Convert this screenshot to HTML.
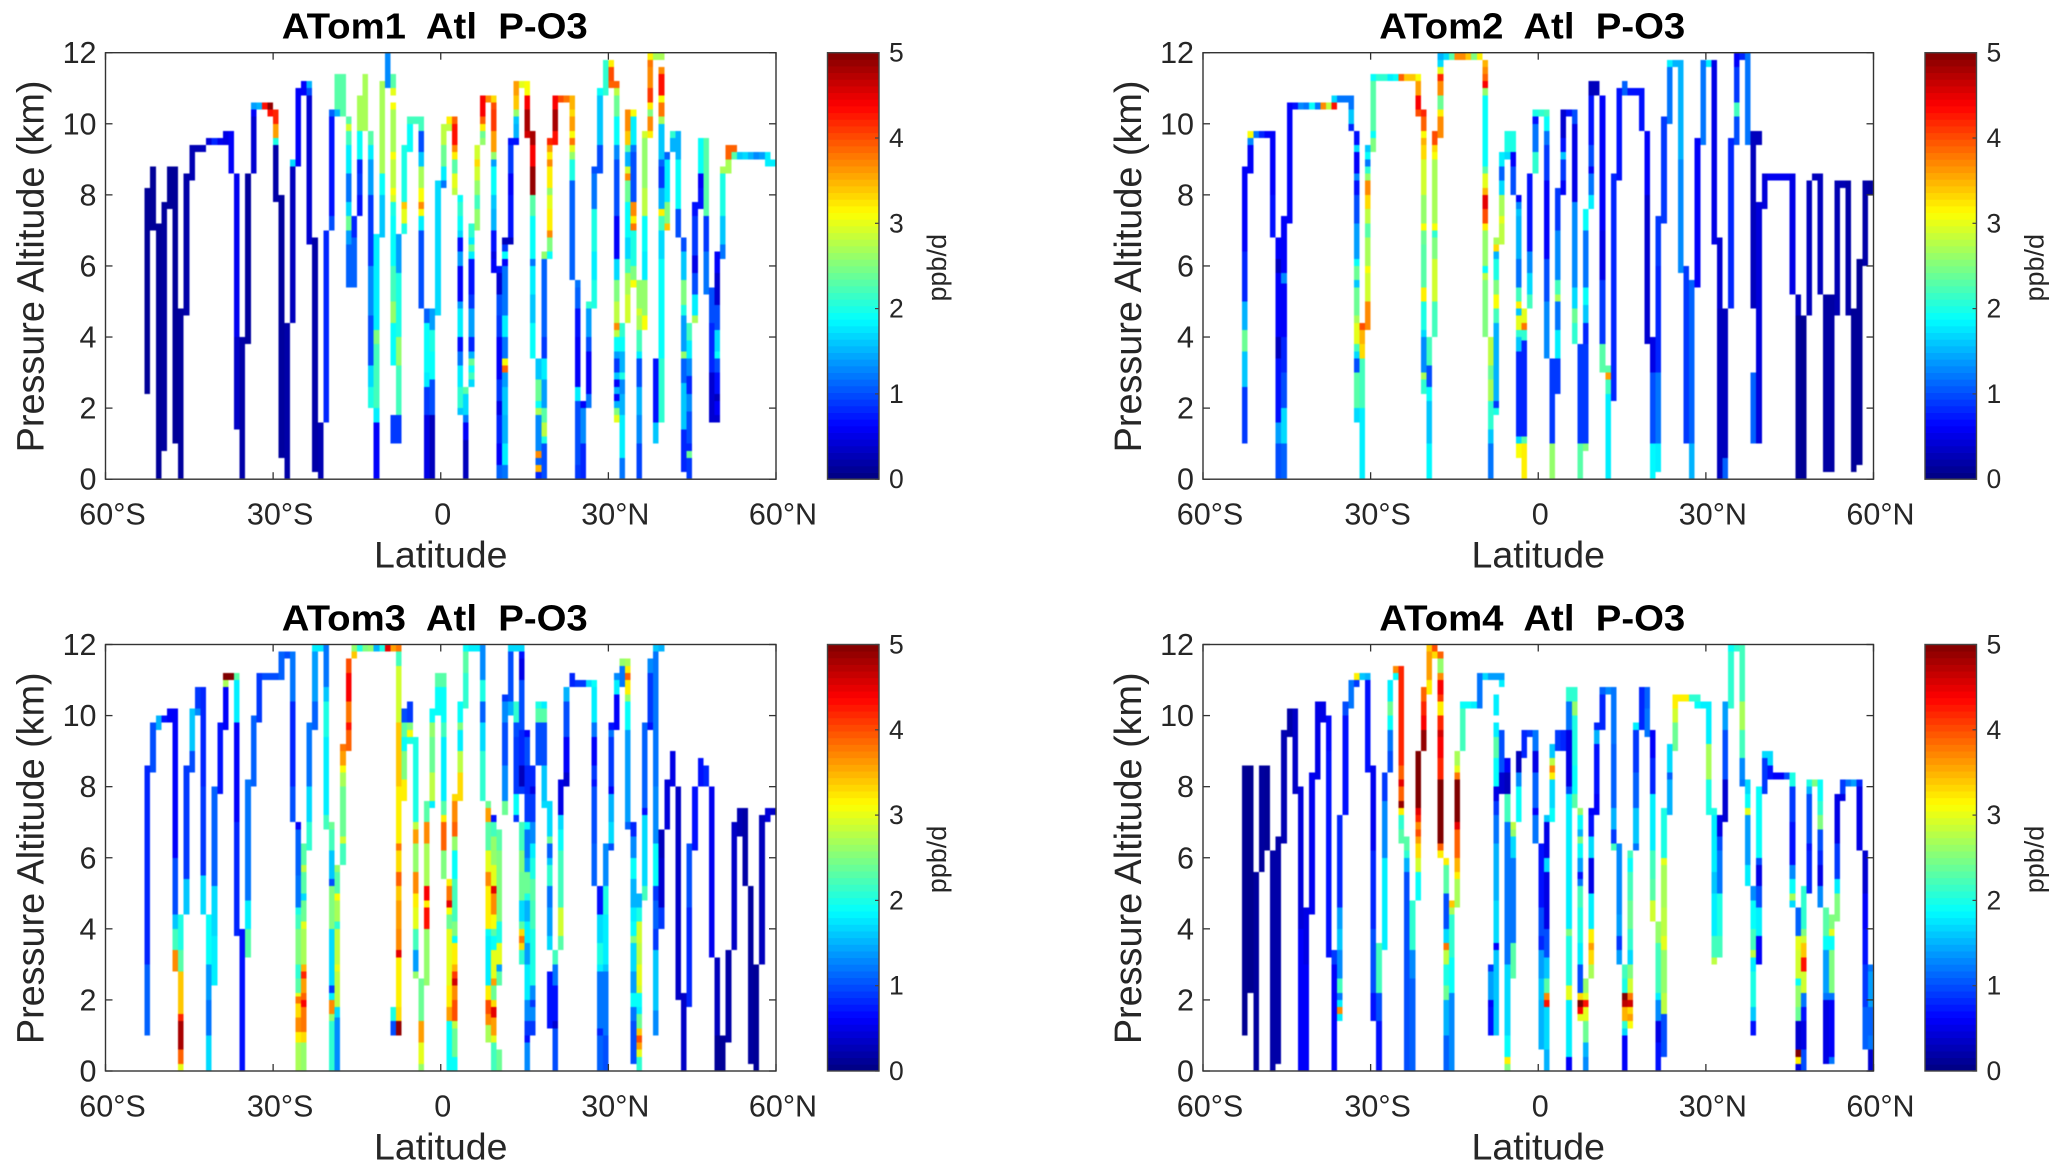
<!DOCTYPE html>
<html lang="en">
<head>
<meta charset="utf-8">
<title>ATom Atl P-O3</title>
<style>
html,body{margin:0;padding:0;background:#fff;}
svg{display:block;font-family:"Liberation Sans",sans-serif;}
text{fill:#262626;white-space:pre;}
.cells{filter:blur(0.45px);}
</style>
</head>
<body>
<svg id="figure" xmlns="http://www.w3.org/2000/svg" width="2067" height="1172" viewBox="0 0 2067 1172"></svg>
<script>
// Every column: [latitude, bottomKm, value, topKm, value, topKm, ...]
const atom1Columns = [
[-53,2.4,.12,8.2],[-52,7,.12,8.8],[-51,0,.12,7.2],[-50,.8,.15,7.8],[-49,7.6,.12,8.8],[-48,1,.12,8.8],[-47,0,.15,4.8],[-46,4.6,.2,8.6],[-45,8.4,.25,9.4],[-44,9.2,.25,9.4],[-43,9.2,.3,9.4],[-42,9.4,.45,9.6],[-41,9.4,.8,9.6],[-40,9.4,.55,9.6],[-39,9.4,.5,9.8],[-38,8.6,.6,9.8],
[-37,1.4,.35,4,.55,8.6],[-36,0,.2,4],[-35,3.8,.15,8.6],[-34,8.6,.4,10.2,.6,10.4,1.4,10.6],[-33,10.4,1.5,10.6],[-32,10.4,4.3,10.6],[-31,10.2,4.3,10.4,4.9,10.6],[-30,7.8,.2,9.4,2,9.6,3.6,10,4.2,10.4],[-29,.6,.15,8],[-28,0,.2,4.4],[-27,4.4,.3,8.8,1.7,9],[-26,8.8,.6,11],[-25,10.8,.6,11.2],[-24,6.6,.4,10.8,1,11,1.5,11.2],[-23,.2,.2,6.8],[-22,0,.25,1.6],[-21,1.6,.8,7],[-20,7,1,7.4,.7,10.2,1.1,10.4],[-19,10.2,1.5,10.4,2.3,11.4],[-18,10.2,2.3,11.4],
[-17,5.4,1.1,6.6,1.4,7,2.4,7.4,1.7,7.8,1.2,8.6,1.8,9.4,2.2,9.8,2.9,10,2.3,10.2],[-16,5.4,1.1,6.8,.8,7.4],[-15,7.4,.7,8,.9,8.6,.8,9,1.9,9.8,2.7,10.8],[-14,9.8,2.7,11.4],[-13,2,2,2.6,1.7,3.2,1,4.6,1.3,6,.9,8,1.4,9,1.8,9.4,2.3,9.8],[-12,0,.6,1.6,1.8,2,2.2,3.8,2.5,4.2,1.8,6.9],[-11,6.8,1.6,8,1.9,8.6,2.7,11.2],[-10,11,1.3,12],[-9,1,.9,1.8],[-9,3.2,1.9,4.4,2.6,5,2.2,6,1.9,7.4,2,7.8,2.9,8,3.1,8.2,2.8,9,3.1,9.2,2.7,10.4,3.1,10.6],[-9,10.8,3,11,2.3,11.4],[-8,1,.9,1.8,2.2,3.2,2.6,4,2,5.8,1.4,6.9],[-7,6.9,2,7.2,3,7.6,3.4,7.8,2,9.4],[-6,9.2,1.9,10,2.2,10.2],[-5,10,2.2,10.2],[-4,4.8,1,7,1.8,7.4,3.1,7.6,3.7,7.8,3.1,8.2,2.7,8.8,1.6,9.2,1,9.8,2.2,10.2],[-3,0,.5,1.8,.9,2.6,1.8,3,1.9,4.4,1.1,4.8],[-2,0,.3,1.8,1,2.8,1.9,3.6,2,4.2,1.4,4.8],[-1,4.6,1.7,8.4],
[0,8.2,1.2,8.4,1.8,8.8,2.4,9.4,2.8,10],[1,9.8,2.8,10,3.2,10.2],[2,8,2.8,8.2,3,8.6,2.3,9,3.2,9.2,3.7,9.4,4.3,10,3.9,10.2],[3,1.8,1.6,2,2.1,2.6,1.8,3.2,1.2,3.6,.7,4,1.8,4.8,1.4,5,.6,6,1.4,6.4,.7,6.8,1.7,7,1.9,7.4,2.1,7.8,1.9,8],[4,0,.3,1.1,.6,1.6,1.2,1.8,1.7,2.4,2.3,2.6],[5,2.6,1.7,2.8,2.2,3,1.9,3.2,2.4,3.4,1.5,3.6,.8,4,1.4,4.8,.9,5.2,.7,6.2,1.8,6.4,2.4,6.6,1.8,6.8,2.1,7.2],[6,7,2.6,7.6,2.2,8,2.6,8.4,2.9,8.8,3.3,9,2.9,9.4],[7,9.4,2.6,9.6,2.4,9.8,3.2,10,3.9,10.2,4.4,10.8],[8,10.6,3.7,10.8],[9,5.8,.6,6.2,.5,6.4,.7,7,1.5,7.6,1.6,8,1.9,8.8,1.4,9,2.6,9.2,3.6,9.8,4.1,10.4,4,10.6,3.3,10.8],[10,0,1.1,.4,.6,1,.8,1.8,.5,2.2,.9,2.8,.6,4,.9,4.6,1,5.2,.4,5.8,.7,6],[11,0,1.2,.4,1.8,1,1.5,1.8,1.6,2.6,1.4,3,3.9,3.2,3.1,3.4,1.2,4,1.8,4.6,1.2,6,.6,6.2,1.9,6.4,.9,6.6,.3,6.8],[12,6.6,.3,6.8,.7,8,.6,8.6,.9,9.4,.7,9.6],[13,9.4,.7,9.6,1.5,10,1.6,10.2,2.6,10.4,3.4,10.8,3.6,11.2],[14,11,3,11.2],[15,9.6,4.6,9.8,4.8,10.4,4.4,10.8,3.1,11.2],[16,3.4,1.9,4.4,1.6,5.2,1.8,6,1.2,6.2,1.9,7.4,2.3,8,4.9,8.8,4.4,9.4,4.8,9.8],[17,0,.8,.2,3.5,.4,1.1,.6,3.7,.8,1.3,1.8,2.7,2,1.9,2.2,2.4,2.8,1.6,3.4],[18,0,1,1,2,1.2,2.8,1.6,2.3,2,1.4,2.8,1.8,3.4,.9,4,1.1,6.2,2.6,6.4],[19,6.2,1.9,6.4,2.5,6.8,3.7,7,3.2,7.6,3,8,2.6,8.2,3.2,8.8,3.7,9,3.2,9.2,3.6,9.4,4.2,9.6],[20,9.4,4.3,9.8,4.8,10.4,4.4,10.8],[21,10.6,4,10.8],[22,10.6,3.8,10.8],[23,5.6,1.1,8.4,2,9,2.6,9.2,3,9.4,3.8,9.6,3.1,9.8,3.6,10.2,3.3,10.4,3.5,10.8],[24,0,.9,.4,1,2.2,1.8,2.6,.6,4,.7,4.8,1.1,5.4,1.2,5.6],[25,0,.8,1,1.3,2,.6,2.2],[26,2,1.2,2.4,.6,3.6,1,4,1.4,4.8,2.1,5],[27,4.8,2,5.6,1.8,6.4,2,7.6,1.2,8.6,1,8.8],[28,8.6,1,9.4,1.6,10.8,1.9,11],[29,10.8,2.1,11.8],[30,11,3.9,11.2,4,11.6,3.2,11.8],[31,1.6,3,1.8,2.5,2,1.5,2.2,.6,2.4,1.5,2.6,.6,2.8,1.6,3,.9,3.4,1.4,3.6,1.9,4,2.8,4.2,3.7,4.4,2.8,5,2.5,5.6,1.7,6.2,.6,7.4,1,9,1.3,9.4,1.9,10.2,2.4,10.8,2.8,11,3.9,11.2],[32,0,1.2,.6,1.8,1.8,1.5,2.4,1.3,2.8,2,3,1.5,3.6,1.9,4,2.1,4.4],[33,4.4,2.9,5.2,2.7,5.8,2.2,6.2,1.7,6.8,1.9,7.8,2.4,8.4,3.7,8.6,2.9,8.8,1.5,9.2,2.3,9.4,3.4,9.8,3.7,10.4],[34,5.4,3.1,5.6,2.5,6,2,7,3.8,7.2,3.2,7.4,3.7,7.8,1,9.2,1.2,9.4,1.8,10.2,3.1,10.4],[35,0,.95,1,1.3,1.8,1.5,2.6,1,3.4,1.8,3.6,2.2,4.2,2.7,4.6,2.9,4.8,2.6,5.6],[36,4.2,3.1,4.6,2.6,5.6,1.8,6.4,1.9,7.4,2.8,8.2,2.6,9.6,2.9,9.8],[37,9.6,3.2,9.8,3.7,10.2,2.5,10.4,3.2,10.6,4.1,11,3.7,11.6,3.8,11.8,3.2,12],[38,1,1.6,1.6,.7,3.4],[38,11.8,2.7,12],[39,1.6,2.1,3.4,1.9,6.2,1.7,7,2.2,7.4,3.2,7.6,1.5,8.2,.9,8.8,1.1,9,1.6,10,2.7,10.2,3.8,10.6,3.1,10.8,4.3,11.4,3.7,11.6],[39,11.8,2.7,12],[40,7,3.4,7.2,2.5,7.8,1.8,9,1.1,9.2],[41,9.2,1.5,9.6,2.1,9.8],[42,6.8,1,7.6,1.9,9,1.5,9.8],[43,.2,.8,1.4,1.6,2.7,1.1,3.4,2.6,3.6,1.4,4.6,2,4.9,2.5,5.6,1.6,6.4,1,6.8],[44,0,.9,.6,2.4,.8,.8,1,1,1.9,1.3,2.4,.8,2.9,1.3,3.4,1.8,3.9,2.2,4.4],[45,4.4,2.7,4.6,1.8,5.2,1,5.8,.5,6.3,.9,7.4,.7,7.8],[46,7.6,.7,8.2,.6,8.6,1.9,9.6],[47,5.2,1.2,6.4,.9,7.4,2.3,9.6],[48,1.6,.4,3,.8,4.4,1,5.4],[49,1.6,.4,1.8,.6,2.2,.3,2.4,.7,3,1,3.4,1.9,3.6,1.7,4.2,1,4.9,.4,5.8,.6,6.4],[50,6.2,1.2,6.6,1.6,7.4,2,8.6,2.7,8.8],[51,8.6,2.7,9,3.9,9.4],[52,9,2.3,9.2,3.9,9.4],[53,9,1.6,9.2],[54,9,1.7,9.2],[55,9,1.5,9.2],[56,9,1.3,9.2],[57,9,1.4,9.2],[58,8.8,1.8,9.2],[59,8.8,1.8,9]
];
const atom2Columns = [
[-53,1,.9,2.6,1.6,3.6,2.4,4.2,1.5,5,.8,6.4,.6,8.8],[-52,8.6,.6,9.4,1.3,9.6,3.1,9.8],[-51,9.6,1.2,9.8],[-50,9.6,.8,9.8],[-49,9.6,.6,9.8],[-48,6.8,.7,8,.6,9.8],[-47,0,1,1,1.4,1.6,.7,3.4,.3,4,.6,5.8,.3,6.2,.6,6.8],[-46,0,1.1,1,1.7,2,1,3,.8,4,.6,5.5,1.3,5.8,.6,7.4],[-45,7.2,.6,10.6],[-44,10.4,.7,10.6],[-43,10.4,1.3,10.6],[-42,10.4,1.2,10.6],[-41,10.4,1.9,10.6],[-40,10.4,1.2,10.6],[-39,10.4,3.7,10.6],[-38,10.4,2.8,10.6],[-37,10.4,4.3,10.6,1.7,10.8],[-36,10.6,1.2,10.8],[-35,10.6,1.2,10.8],[-34,9.8,.8,10,1.6,10.4,1.2,10.8],
[-33,1.6,1.7,2,2.3,3,1,3.4,1.7,3.6,2.2,3.8,3,4.4,2.7,4.6,2.4,5.4,1.6,5.6,2.4,6,1.9,6.2,1.4,7.2,1,8,.7,8.4,1.3,8.6,.6,9.2,1.7,9.4,.7,9.8],[-32,0,1.8,2,2.2,3.4,3.3,3.8,3.5,4.2,4,4.4],[-31,4.2,3.7,5,2.9,5.8,3.1,6,2.7,6.8,2.3,7.2,2.8,7.6,3.3,8,3.7,8.4,2.6,8.6,2.1,8.8,1.2,9,1.9,9.2,1.6,9.4],[-30,9.2,2.5,9.6,1.9,9.8,2.3,11.2,1.9,11.4],[-29,11.2,2.1,11.4],[-28,11.2,2.1,11.4],[-27,11.2,1.8,11.4],[-26,11.2,1.9,11.4],[-25,11.2,3.9,11.4],[-24,11.2,3.4,11.4],[-23,11.2,3.4,11.4],[-22,10.2,4,10.4,4.4,10.8,3.6,11.2,3.1,11.4],[-21,2.4,2.1,2.8,2.7,3,1.3,4,1.7,4.2,2,5,3.2,5.4,2.3,6.6,2.4,7,3.1,7.2,2.6,8,2.9,9,3.3,9.4,3.5,9.6,3.1,9.8,3.9,10.2,4.2,10.4],[-20,0,1.85,1,1.6,2.2,1.9,2.6,1,3.2,2.2,4],[-19,4,2.2,5,2.9,6.2,2.5,6.8,2.1,7,3.1,7.2,2.7,9,3.1,9.2,3.3,9.4,4,9.8],[-18,9.6,3.7,10.2,3.2,10.4,2.4,10.8,3.7,11.2,4.2,11.4,3,11.6,1.7,11.8,1.5,12],[-17,11.8,1.7,12],[-16,11.8,2.3,12],[-15,11.8,3.7,12],[-14,11.8,3.7,12],[-13,11.8,3.4,12],[-12,11.8,2.5,12],[-11,11.8,3.2,12],[-10,4,2.5,5.6,2.8,5.8,1.9,6,2.6,7,3.2,7.2,4,7.6,4.5,8,3.5,8.2,3,8.6,2.3,8.8,1.9,10.8,2.6,11,4.4,11.2,3.9,11.4,3.7,11.6,3.5,11.8],[-9,0,1.2,1,1.6,1.4,2.1,2.2,2.7,2.8,2.4,3.2,2.8,4],[-8,1.8,2,2,.9,2.2,1.5,4.4,2.2,4.8,3.1,5.2,2.5,5.6,2,6.2,1.5,6.4,3.3,6.6,2.7,6.8],[-7,6.6,2.8,7.2,3,7.4,2.7,8,1.7,8.4,1.1,8.8,1.8,9.2],[-6,9,1.7,9.2,2,9.8],[-5,8,1,8.8,.6,9.2,2,9.8],[-4,.6,3.1,1,1.7,1.2,.8,3.6,1.6,4,2.1,4.2,3,4.6,1.6,4.8,3.2,5,2.2,5.4,1.2,6.2,1.5,7.4,1.6,7.6,1.3,7.8,.6,8],[-3,0,3.2,1,2.3,1.2,.8,3.9,2.1,4.2,3.8,4.4,3,4.8],[-2,4.8,2.2,5.2,1.7,5.8,1.3,6.4,.7,8.6],[-1,8.6,2.1,9.2,1.2,10,.7,10.2,2,10.4],[0,10.2,2.1,10.4],[1,3.4,1.3,5,1,6.2,.6,8.4,.9,9.4,1.2,9.8,1.9,10.2,2.2,10.4],[2,0,2.6,1,.9,3.4],[3,2.4,.9,3.4,1.8,4.2,1.2,5,2.7,5.2,2.2,5.6,1.3,7,.9,8.2],[4,8,.6,8.4,.9,9,1.6,9.2,.7,9.6,.4,10.4],[5,10.2,.7,10.4],[6,3.8,2.1,4.4,2.4,4.8,1.7,5.4,1.3,7.8,.5,10,1,10.4],[7,0,2.3,1,.9,3.8],[8,.8,2.5,1,.9,3.8,.8,4.4,1.6,4.9,1.9,5.4,1.2,7,1.9,7.6],[9,7.6,1.8,8,1.2,8.6,.6,8.8,1,9.4,.7,10.8,.3,11.2],[10,10.8,.3,11.2],[11,3,2.3,3.8,.9,5.6,.5,7,.6,10.8],[12,0,1.8,2.4,2.2,2.8,3.6,3,2.3,3.2],[13,2.2,.8,8.6],[14,8.4,.7,11],[15,10.8,1.1,11.2],[16,10.8,.7,11],[17,10.8,.7,11],[18,9.8,.7,11],[19,3.8,.4,8,.6,9.8],[20,0,1.85,1,1,3,.5,4],[21,.2,1.8,1,1.2,3,.8,6,.9,7.4],[22,7.2,.9,10.2],[23,10,1.2,11.6,1.8,11.8],[24,11.6,1.5,11.8],[25,5.8,1.3,9,1.5,11.8],[26,1,.9,6],[27,0,1.5,1,1.1,5.6],[28,5.4,.6,9.6],[29,9.4,1.2,11.8],[30,11.6,1.8,11.8],[31,6.6,.5,11.8],[32,0,.3,4.8,.4,6.8],[33,0,1.1,.6,.3,4.8],[34,4.8,.8,9.6],[35,9.4,1,10.2,2.2,10.6,.9,11.6,.6,12],[36,11.8,.8,12],[37,9.4,1.2,12],[38,1,1.1,3],[38,4.8,.3,9.8],[39,1,.45,7.8],[39,9.4,.3,9.8],[40,7.6,.45,8.6],[41,8.4,.55,8.6],[42,8.4,.55,8.6],[43,8.4,.55,8.6],[44,8.4,.55,8.6],[45,5.2,.5,8.6],[46,0,.12,4.6,.3,5.2],[47,0,.1,4.6],[48,4.6,.3,8.4],[49,8.4,.3,8.6],[50,5.2,.3,8.6],[51,.2,.18,5.2],[52,.2,.18,5.2],[53,4.6,.25,8.4],[54,8.2,.25,8.4],[55,4.6,.2,8.4],[56,.2,.12,4.8],[57,.4,.12,6.2],[58,6,.2,8.4],[59,8,.15,8.4]
];
const atom3Columns = [
[-53,1,1.1,3,.8,8.6],[-52,8.4,1,9.8],[-51,9.6,1.5,10],[-50,9.8,.7,10],[-49,9.8,.6,10.2],[-48,2.8,3.7,3.4,2.2,4,1.6,4.4,1,6,.6,10.2],[-47,0,3,.2,3.9,.6,4.8,1.4,4.2,1.6,3.4,2.8,2.3,3.4,2,4.4],[-46,4.4,1.6,5.4,.9,8.6],[-45,8.4,1,9,1.6,10.2],[-44,10,1.3,10.2,.9,10.8],[-43,4.4,1.7,5.5,.9,8,.8,10.8],[-42,0,1.7,1,1.2,2,1.4,3,1.9,4.4],[-41,2.4,1.8,3.8,1.7,5.2,1.1,8],[-40,7.8,.7,9.8],[-39,9.6,.6,10.8,2.7,11,5,11.2],[-38,11,5,11.2],[-37,3.8,.8,7,.6,9.8,1.8,11,2.3,11.2],[-36,0,.7,4],[-35,3.2,2.3,4,1.8,4.8,1.2,8.2],[-34,8,1.1,10],[-33,9.8,.9,11.2],[-32,11,1,11.2],[-31,11,1,11.2],[-30,11,1,11.2],[-29,11,1.1,11.8],[-28,11.6,1,11.8],
[-27,7,1,8,.8,10.4,1.2,11.8],[-26,0,2.7,.8,3.2,1.1,3.7,1.5,3.3,1.9,3.8,2.1,3,2.2,2.3,2.6,2.1,3,2.5,4,2.2,4.4,2,4.6,1.2,5.5,1.1,6.8,.6,7],[-25,0,2.6,.8,3.3,1.1,3.8,1.8,4.4,2,3.9,2.2,3.6,2.6,4.2,2.8,3.5,3,2.7,4,3,4.2,2.4,4.8,1.7,5,2.3,5.6,2.8,5.8,2.3,6.4],[-24,6.2,2.1,7,1.7,8,1.2,9.8],[-23,9.6,1.1,10.4,1.4,11.8,1.8,12],[-22,11.8,1.8,12],[-21,6.8,2.2,7.2,1.8,9.4,2,10.4,1.6,10.8,1.2,12],[-20,0,2.1,1.4,2.6,1.6,3.7,2,1.8,2.2,.9,2.4,1.7,4,2.5,5.2,1,5.4,1.6,6.2,2.2,6.8,2.4,7],[-19,0,1.3,1.5,1.7,1.8,2.8,2.8,3,3,2.8,4,2.1,4.2,2.7,4.8,3.1,5,2.3,5.6,2.6,5.8],[-18,5.8,2.2,6.4,2.9,6.6,2.4,8,2.7,8.4,3.1,8.6,3.6,9,3.8,9.2],[-17,9,3.9,9.6,4.3,9.8,3.8,10.4,4.4,11.2,4,11.6],[-16,11.6,3.4,11.8,2.6,12],[-15,11.8,2,12],[-14,11.8,2.5,12],[-13,11.8,2.6,12],[-12,11.8,1.5,12],[-11,11.8,2,12],[-10,11.8,4.5,12],[-9,1,1,1.4,2,1.8],[-9,11.8,3.6,12],[-8,1,4.9,1.4,3.3,1.8,3.2,3.2,4.5,3.4,3.7,4,3.6,4.8,3.4,5.2,3.9,5.6,3.3,6.2,3.8,6.4,3.2,8,3.4,9.8,2.9,11.4,2.2,11.8,3.8,12],[-7,7.6,3.2,8.2,2.5,9,1.9,9.4,2.3,9.8,1,10.2],[-6,9.2,2,9.4,3.1,9.6,2.5,9.8,.9,10.4],[-5,2.6,2.6,2.8,1.4,3.4,2.2,4,3,4.6,3.2,5,3.7,5.6,2.6,6.4,3.6,6.8,2.8,7,2,9.4],[-4,0,2.6,.2,3,.8,3.6,1.4,2.4,2.6],[-3,2.4,2.6,4,4.3,4.6,3.2,4.8,4.4,5.2,2.7,6.4,3.7,7,2.3,7.6],[-2,7.4,1.8,7.6,2.8,8.4,2.4,9.4,2.6,9.8,1.9,10.2],[-1,10,1.9,10.8,2.3,11.2],[0,5.4,2.5,6.2,3.9,7,3.2,7.2,2.3,7.6,1.8,9.4,2.2,9.8,1.9,10.8,2.3,11.2],[1,0,1.9,1.4,3.6,1.8,3.2,2.4,3,4,2.4,4.4,3.1,4.6,4.5,4.8,3.8,5.2,3.2,5.4],[2,0,1.9,.4,2.4,1.2,2.8,1.4,4,2,3.7,2.4,4.6,2.6,4.1,2.8,3.5,3,3.2,3.6,1.9,3.8,2.5,4.2,2.2,5.4,1.9,6.2,2.6,6.6,3.9,7,3.7,7.6,3.3,7.8],[3,7.6,3.3,8.4,2.8,9,1.8,9.6,2.5,9.8,1.9,10.4],[4,10.2,2.1,11.2,2.3,11.8,1.9,12],[5,11.8,1.8,12],[6,11.8,1.8,12],[7,7.6,2.1,9,1.7,9.8,1.1,10.4,2,11,1.3,12],[8,.8,2.7,1.3,3.7,1.6,4,2,3.2,2.4,1.8,3.8,1.9,4,3.2,5.2,3.7,5.6,3,6.2,2.3,7,3.6,7.4,2.4,7.6],[9,0,2.2,.8,3,1,3.6,1.5,4.5,1.8,3.3,2,2.4,2.4,3.6,2.6,3,3.4,1.9,3.8,2.3,4,3.1,4.4,3.7,5,4.5,5.2,3,5.8,2.6,6.6,2.2,7,.7,7.2],[10,0,2.4,.6],[10,2.4,2.3,2.8,1.4,3,3,3.6,2,4.2,2.5,6.2,2.3,6.8],[11,7.2,2.4,7.6,1.3,8.6,1,9.8,1.3,10.4,.9,10.6],[12,10,1.5,10.4,1,11.8,1.7,12],[13,7,.9,7.2,1.9,7.8,.9,9.4,1,9.8,2.1,10.4],[13,11.8,1.7,12],[14,3,2.1,3.4,3.3,3.6,3.8,3.8,3.3,4,2.3,4.2,1.7,4.8,2.4,5.6,2.5,6.2,2.2,7],[14,7.8,.9,8,.3,8.6,.8,9.6,1,11,.5,11.6,.7,11.8,1.7,12],[15,0,1.3,.8,.7,1,.9,1.4,1.3,2,1.8,3,1.4,3.6,1.8,4.2,1.5,4.8,2,5,2.4,5.6,1.4,6,1.2,6.8,1.9,7,.9,7.8,.8,8.6,1,9.4,.6,9.6],[16,1,.9,1.4,1.3,1.8,.9,2,1.3,2.4,2,4,2.2,4.8,2.3,5.4,2,6,1.8,6.4,1.3,7,.9,7.8,.5,8,.8,8.6],[17,8.6,1,9.8,2.3,10.2,2,10.4],[18,7.4,1.7,7.6,1.6,8.6,1,9.8,2.3,10.2,1.8,10.4],[19,1.2,.7,2.8],[19,3.4,1.7,3.8,1.4,4.6,1.2,5.2,2.1,5.8,1.6,6,1.1,6.4,2.4,6.6,1.7,7.6],[20,0,1,1.2,.4,1.4,.7,2.4,1.2,3,2.2,3.4],[21,3.4,2.3,3.8,2.9,4.6,2.2,6.2,1.9,6.8,1.7,7.2,.5,8.2],[22,8,.4,8.4,.6,9.4,1,10.4,1.5,10.8],[23,10.8,.8,11.2],[24,10.8,.9,11],[25,10.8,.9,11],[26,10.8,1.7,11],[27,5.2,1.1,6.4,1,8,.7,8.2,.9,8.6,.6,9.4,1.2,9.8,1.8,10.8,1.9,11],[28,0,1.1,1,.8,1.2,1.2,2.8,1.8,3,2,3.6,1.7,4.4,.7,5.2],[29,0,1,1,1.2,2.8,1.6,3,1.8,4.4,2,5.2,1.3,6.4],[30,6.2,1,6.4,1.7,7,1.5,7.8,.6,8,.9,9.4,1.2,9.6,.7,9.8],[31,9.6,.6,10.6,1.8,11,1.3,11.2],[32,10.8,1.2,11.4,2.6,11.6],[33,6.8,1.1,7,1.4,9.6,1.9,10.4,2.6,10.6,3.2,11,3.9,11.2,3.2,11.4,2.7,11.6],[34,.2,1,1.4,1.2,1.8,1.9,2.2,1.4,2.8,1.7,3.6,2.5,3.8,1.9,4.2,1.8,4.6,1.5,5.4,1.9,6,1.3,6.6,.8,7],[35,0,2.1,.4,3,.6,3.6,.8,4,1,3.4,1.2,2.4,1.6,1.8,1.8,1.9,2.2,2.9,2.4,3,3,2.8,3.6,2.9,4.2,2,4.6,1.5,5],[36,4.8,2.2,5.2,1.7,7.2,.7,7.4,1.1,9.8],[37,9.6,.7,9.8,.9,11.2,1.3,11.6],[38,1,1.3,1.7,1.6,3.4,.9,4,1.1,4.8,.9,5.2,1.9,6.4,1.3,8,1.2,11.8,1.6,12],[39,4,.9,4.6,.4,6,.3,6.8],[39,11.8,1.5,12],[40,6.8,.45,8.2],[41,8,.5,9],[42,2,.35,8],[43,0,.35,2.2],[44,1.8,.8,4.6,1,6.4],[45,6.2,.7,8],[46,8,.7,8.8],[47,8,.8,8.6],[48,3.2,.55,8],[49,0,.12,1,.3,3.2],[50,0,.12,1],[51,.8,.2,3.4],[52,3.4,.35,7],[53,6.6,.25,7.4],[54,5.2,.2,7.4],[55,.2,.15,5.2],[56,0,.12,3],[57,3,.3,7.2],[58,7,.45,7.4],[59,7.2,.35,7.4]
];
const atom4Columns = [
[-53,1,.1,8.6],[-52,2.2,.08,8.6],[-51,0,.15,5.6],[-50,5.6,.15,8.6],[-49,6.2,.12,8.6],[-48,0,.2,6.2],[-47,.2,.2,6.6],[-46,6.4,.25,9.6],[-45,9.4,.2,10.2],[-44,7.8,.35,10.2],[-43,0,.6,4,.45,8],[-42,0,.6,3,.5,4.6],[-41,4.4,.55,8.4],[-40,8.2,.5,10.4],[-39,9.8,.5,10.4],[-38,3.2,.7,9,.65,10],[-37,0,.6,3,.9,3.4],[-36,1.4,1.8,1.6,3.7,1.8,1.8,2,1.2,2.2,2.2,2.6,1.3,3.4,1.6,4,1.4,4.6,.8,7.2],[-35,7.2,.7,10,1,10.4],[-34,10.2,1.2,11],[-33,10.8,.9,11,3.2,11.2],[-32,11,1.6,11.2],[-31,8.4,.7,11,1.5,11.2],[-30,1.4,.7,2.2,1,4,.8,6.2,.55,8.6],[-29,0,.7,1.4,1,2.2,2.2,3.6],[-28,3.4,1.8,6,1.3,7.6,.9,8.4],[-27,8.4,1,9,1.2,9.6,1.9,10,2.4,10.4,1.8,11],[-26,11,1.9,11.2,3.7,11.4],[-25,6.4,2.3,6.8,2.1,7.2,3.2,7.4,4.9,7.6,3.9,8,4.5,8.2,3.9,8.6,4.2,11.4],[-24,0,1,5.6,1.5,6,2.1,6.2,2.3,6.6],[-23,0,1.1,2.6,1.3,3.4,2.1,4.8],[-22,4.8,1.9,5.6,2.9,6,3.3,6.4,3.6,6.6,4,6.8,3.7,7,4.2,7.2,4.5,7.4,5,9],[-21,9,4.9,9.6,4.4,10,4.2,10.4,3.9,10.8],[-20,10.6,3.2,11,3.6,11.8,3.4,12],[-19,11.6,3.3,11.8,4,12],[-18,6,3.2,6.2,3.9,6.4,5,8.2,4.2,8.8,4.4,9.4,4.6,9.6,4.2,10,3.2,10.4,4.1,10.6,4.4,11,3.7,11.2,2.6,11.6,3.9,11.8],[-17,0,1.1,1,1.5,2,2.4,2.4,2,3,2.8,3.4,3.8,3.6,1.7,4,1,5,2.3,5.8,3.2,6],[-16,0,1.3,2.2,1.9,3.2,2.1,4.4,2.7,4.6,3.4,4.8],[-15,4.6,2.7,5.4,3.2,5.6,3.5,6,3.9,6.8,4.5,7,5,8.2,3.8,8.4,3,8.6,2.7,9],[-14,9,2.2,10.2,1.9,10.4],[-13,10.2,1.9,10.4],[-12,10.2,1.8,10.4],[-11,10.2,1.2,11.2],[-10,11,1.7,11.2],[-9,11,1.4,11.2],[-9,1,.7,1.8,.6,2,1.4,2.8,.9,3],[-8,1,1.6,3.4,.6,3.6,1.7,4.8,1.5,6.4,1.2,7.2,.9,7.6,.5,8,1.9,8.8,2.3,9.4,1.8,9.8],[-8,10,1.8,10.6],[-8,11,1.4,11.2],[-7,10.8,1.8,11,1.4,11.2],[-7,7.8,.4,8.4,1,9.6],[-6,0,2.5,.2,3.2,.4,1.9,1,1.7,3,1.2,7,2.2,7.8,.3,8.4,.6,8.8],[-5,2.6,2.3,3.6,1.2,6,1.7,6.6,2.6,6.8,2.8,7],[-4,7,1.9,8,1.3,8.4,.3,9],[-3,8.8,.8,9.6],[-2,9.4,.9,9.6],[-1,6.4,1.2,7.2,.6,7.4,1.1,8.4,.5,9,1.2,9.6],[0,.6,1.5,2,1.6,2.6,1.4,3.4,.8,3.8,1,4.6,.7,6.4],[1,0,1.5,.6,1.7,1.8,4.3,2,3.7,2.2,2.3,2.6,1.6,3.2,1,4,.5,5.6,1.7,6,.5,7,1.6,7.2],[2,7,1.9,7.4,1.7,8.2,3.2,8.4,3.7,8.6,2.8,8.8,1.6,9.2],[3,9,.9,9.6],[4,9,.8,9.6],[5,0,.6,.4,1.8,2,3,2.4,2,3.8,2.5,4,1.8,7.8,1,8,.5,9.6,1.2,10.4,2.1,10.8],[6,7.4,2.3,7.8,1.9,8.6,2,10,2.6,10.4,2.1,10.8],[7,1.4,3,1.6,4.4,1.8,5,2,3.3,2.2,1,3,1.8,3.6,2,4.6,2.2,5.2,1.2,5.4,.7,5.6,1.4,6,1.9,6.4,2.5,6.6,1.5,6.8,1.9,7.2,2.6,7.4],[8,0,1.3,.4,1.5,.8,2.4,1.4,3,1.8,4.3,2,3,2.2,2.6,2.6],[9,2.6,2.7,3,3.3,3.4,3.6,3.6,3.2,4,1.8,5,.5,6,1.7,6.6,.7,7.2,.6,7.4],[10,7.2,.6,7.8,.7,9.2,1.5,9.6,.8,9.8],[11,9.6,.8,10.6,1.1,10.8],[12,10.6,1.3,10.8],[13,6.2,2.2,6.4,.9,6.8,1.5,7.4,1.1,9.2,1.2,10.8],[14,3,1.4,3.4,.9,3.8,1.4,4.4,1.3,6.4],[15,0,.6,1,1.7,1.2,2.1,1.4,3.5,1.8,4.7,2,5,2.2,2,2.6,2.2,3],[16,1.2,3.1,1.4,3.6,1.6,3.3,1.8,4.6,2,3.8,2.2,2.9,2.6,2.5,3,1.7,3.4,2.1,4,2.4,4.8,2.2,5.6,1.9,6,2.2,6.2],[17,6.2,1.2,6.4,1.6,7.4,1.1,8.4,.9,9.6,1.8,9.8],[18,9.6,.8,10.8],[19,9.4,1.2,10.2,1.1,10.8],[20,4.2,2.9,4.8,2.3,5.4,2.2,6.2,1.8,7.8,.8,8.8,.6,9.6],[21,0,.7,.8,.5,1.4,1.3,2,1.8,2.2,2.2,3.6,2.6,4.2],[22,.4,1,1.6,2.8,2.2,2.6,3.4,3,3.8,2.8,4.6,2.7,5.8,3,6,2,7.4],[23,7.2,1.5,8.2,1.1,8.4,1.7,9.2],[24,9,2.4,9.8,2.9,10.2,3.2,10.6],[25,10.4,3.2,10.6],[26,10.4,3.2,10.6],[27,10.4,2.1,10.6],[28,10.2,1.9,10.4,2.1,10.6],[29,10.2,1.8,10.4],[30,7.2,2,8.2,2.7,9.2,1.8,10.4],[31,3,2.8,3.2,2.2,3.8,1.8,5,1.6,5.6,1.8,7.2,2,7.4],[32,3.2,2.2,3.8,2,5,1.2,6.2,1,6.6,.5,7.2],[33,7,.4,8.2,1,9.6,1.4,10.4],[34,10.2,2.1,11.8,1.9,12],[35,11.8,2.1,12],[36,8,1.2,8.2,1.3,8.8,2.2,9.6,2.7,10.4,2.2,12],[37,5.2,1.8,5.8,1.4,7.2,3,7.4,1.9,7.8,1.7,8.2],[38,1,.7,1.4,1.6,1.8,2,2.8,1.8,3.2,2.8,3.4,2.2,4,1.9,4.8,1.3,5.2],[39,3,.6,3.8,1.8,4.6,1,5.2,.5,5.8,1,6,1.9,8],[40,7.8,.9,8.8,1.7,9],[41,8.2,.7,8.6,1.7,9],[42,8.2,.6,8.4],[43,8.2,.6,8.4],[44,8.2,1,8.4],[45,4.6,1.7,4.8,2.7,5,1.9,5.4,1.3,5.8,.7,7,.9,8,2,8.4],[46,0,.5,.2,3.2,.4,5,.6,.4,1.4,2.4,1.8,2.6,2.4,1.9,2.6,2.9,3.4,3,3.8,1.1,4.6],[47,0,1,.6,.5,1.4,.7,1.8,1.2,2.2,2.9,2.8,4.3,3.2,3.4,3.6,2.9,3.8,2.5,4,2.1,5.2],[48,5,.8,6.2,.7,6.4,1,7.8,1.5,8,2,8.2],[49,8,2.5,8.2],[50,4.6,1.3,5.2,.5,5.8,.8,6.2,1,6.8,2.5,7.2,2.1,7.6,1.9,8.2],[51,.2,.5,2,1.2,2.2,1.4,3.4,1.9,3.8,2.3,4.6],[52,.2,1.2,.4,.6,2,1.2,2.2,2.5,3.4,1.9,3.8,3,4,2.5,4.4],[53,4.2,2.5,5,1.8,5.4,.9,6.4,.5,7.8],[54,7.6,.5,7.8,.9,8.2],[55,8,1.2,8.2],[56,8,1.4,8.2],[57,6.2,.5,8,.8,8.2],[58,.6,1.1,1.8,.9,3,.7,4,.6,5,.4,6.2],[59,0,.4,.6,1.2,1,1.1,1.8,1.4,2.8,1.2,3]
];
const panelTitles = ['ATom1  Atl  P-O3','ATom2  Atl  P-O3','ATom3  Atl  P-O3','ATom4  Atl  P-O3'];
const latTicks = [-60,-30,0,30,60];
const latTickLabels = ['60°S','30°S','0','30°N','60°N'];
const altTicks = [0,2,4,6,8,10,12];
const colorTicks = [0,1,2,3,4,5];
const xAxisTitle = 'Latitude';
const yAxisTitle = 'Pressure Altitude (km)';
const colorbarTitle = 'ppb/d';

const NS = 'http://www.w3.org/2000/svg';
const figure = document.getElementById('figure');
const plotW = 670.5, plotH = 426.5, latMin = -60, latMax = 60, altMax = 12, valueMax = 5, latBin = 1;
const panelColumns = [atom1Columns, atom2Columns, atom3Columns, atom4Columns];
const panelLefts = [105.5, 1203, 105.5, 1203];
const panelTops = [52.7, 52.7, 644.5, 644.5];

function make(tag, parent, attrs, text) {
  const el = document.createElementNS(NS, tag);
  for (const k in attrs) el.setAttribute(k, attrs[k]);
  if (text !== undefined) el.textContent = text;
  parent.appendChild(el);
  return el;
}
function jet(value) {
  const t = Math.max(0, Math.min(1, value / valueMax));
  const c = d => Math.round(255 * Math.max(0, Math.min(1, 1.5 - Math.abs(4 * t - d))));
  return 'rgb(' + c(3) + ',' + c(2) + ',' + c(1) + ')';
}

panelColumns.forEach(function (columns, p) {
  const left = panelLefts[p], top = panelTops[p];
  const xScale = lat => left + (lat - latMin) / (latMax - latMin) * plotW;
  const yScale = alt => top + plotH - alt / altMax * plotH;
  const panel = make('g', figure, {});
  
  

  const cells = make('g', panel, { 'class': 'cells', 'shape-rendering': 'crispEdges' });
  
  
  columns.forEach(function (col) {
    const lat = col[0];
    let lo = col[1];
    for (let i = 2; i + 1 < col.length; i += 2) {
      const hi = col[i + 1];
      const rect = make('rect', cells, {
        x: xScale(lat), y: yScale(hi),
        width: xScale(lat + latBin) - xScale(lat),
        height: yScale(lo) - yScale(hi),
        fill: jet(col[i])
      });
      
      
      lo = hi;
    }
  });

  const box = make('rect', panel, { x: left, y: top, width: plotW, height: plotH, fill: 'none', stroke: '#333', 'stroke-width': 1.4 });
  
  

  latTicks.forEach(function (tick, i) {
    const x = xScale(tick);
    const t1 = make('line', panel, { x1: x, x2: x, y1: top + plotH, y2: top + plotH - 7, stroke: '#333', 'stroke-width': 1.3 });
    
    
    const t2 = make('line', panel, { x1: x, x2: x, y1: top, y2: top + 7, stroke: '#333', 'stroke-width': 1.3 });
    
    
    const label = make('text', panel, { x: x + (tick === 0 ? 2 : 7), y: top + plotH + 45.5, 'font-size': 30.5, 'text-anchor': 'middle' }, latTickLabels[i]);
    
    
  });
  altTicks.forEach(function (tick) {
    const y = yScale(tick);
    const t1 = make('line', panel, { x1: left, x2: left + 7, y1: y, y2: y, stroke: '#333', 'stroke-width': 1.3 });
    
    
    const t2 = make('line', panel, { x1: left + plotW, x2: left + plotW - 7, y1: y, y2: y, stroke: '#333', 'stroke-width': 1.3 });
    
    
    const label = make('text', panel, { x: left - 9, y: y + 10.5, 'font-size': 30.5, 'text-anchor': 'end' }, String(tick));
    
    
  });

  const title = make('text', panel, { x: left + plotW / 2 - 6, y: top - 14, 'font-size': 36.5, 'font-weight': 'bold', 'text-anchor': 'middle', textLength: 306, lengthAdjust: 'spacingAndGlyphs', style: 'fill:#000' }, panelTitles[p]);
  
  

  const xTitle = make('text', panel, { x: left + plotW / 2, y: top + plotH + 88.5, 'font-size': 37.5, 'text-anchor': 'middle' }, xAxisTitle);
  
  

  const yX = left - 62, yY = top + plotH / 2 + 0.5;
  const yTitle = make('text', panel, { x: yX, y: yY, 'font-size': 37.8, 'text-anchor': 'middle', transform: 'rotate(-90 ' + yX + ' ' + yY + ')' }, yAxisTitle);
  
  

  // colorbar
  const cbX = left + plotW + 51.5, cbW = 51.5;
  const cbScale = v => top + plotH - v / valueMax * plotH;
  const colorbar = make('g', panel, {});
  
  
  const steps = 64;
  for (let s = 0; s < steps; s++) {
    const v0 = s / steps * valueMax, v1 = (s + 1) / steps * valueMax;
    const band = make('rect', colorbar, { x: cbX, y: cbScale(v1), width: cbW, height: cbScale(v0) - cbScale(v1) + 0.4, fill: jet((v0 + v1) / 2) });
    
    
  }
  const cbBox = make('rect', colorbar, { x: cbX, y: top, width: cbW, height: plotH, fill: 'none', stroke: '#444', 'stroke-width': 1.4 });
  
  
  colorTicks.forEach(function (tick) {
    const y = cbScale(tick);
    const t = make('line', colorbar, { x1: cbX + cbW - 4, x2: cbX + cbW, y1: y, y2: y, stroke: '#444', 'stroke-width': 1.2 });
    
    
    const label = make('text', colorbar, { x: cbX + cbW + 10, y: y + 9, 'font-size': 26.5 }, String(tick));
    
    
  });
  const uX = cbX + cbW + 67, uY = top + 215;
  const unit = make('text', colorbar, { x: uX, y: uY, 'font-size': 27, 'text-anchor': 'middle', transform: 'rotate(-90 ' + uX + ' ' + uY + ')' }, colorbarTitle);
  
  
});
</script>
</body>
</html>
